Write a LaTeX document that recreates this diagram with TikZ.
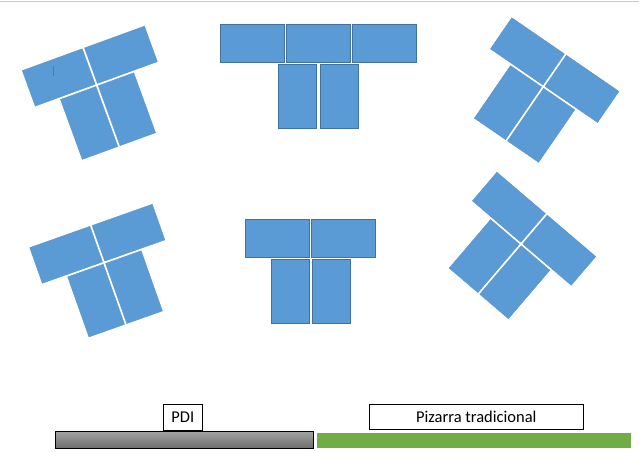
\documentclass[tikz,border=0pt]{standalone}
\usepackage{fontspec}
\setmainfont{Carlito}
\definecolor{tblue}{HTML}{5B9BD5}
\definecolor{tborder}{HTML}{41719C}
\definecolor{tedge}{HTML}{5590CB}
\definecolor{tgreen}{HTML}{70AD47}
\definecolor{gtop}{HTML}{A3A3A3}
\definecolor{gbot}{HTML}{6E6E6E}
\definecolor{topline}{HTML}{C8C8C8}
\definecolor{tick}{HTML}{C55A11}
\newcommand{\tgroup}[3]{%
  \begin{scope}[shift={(#1,#2)},rotate=#3]
    \path[rotdesk] (-65,-39) rectangle (-1.2,-1.2);
    \path[rotdesk] (1.2,-39) rectangle (65,-1.2);
    \path[rotdesk] (-39,1.2) rectangle (-1.2,65);
    \path[rotdesk] (1.2,1.2) rectangle (39,65);
  \end{scope}}
\begin{document}
\begin{tikzpicture}[x=1pt,y=-1pt,
  desk/.style={fill=tblue,draw=tborder,line width=1pt},
  rotdesk/.style={fill=tblue,draw=tedge,line width=0.3pt},
  label box/.style={draw=black,fill=white,line width=1pt,inner sep=0pt,
    font=\fontsize{16.5}{19}\selectfont}]
\useasboundingbox (0,0) rectangle (639,451);
\draw[topline,line width=1.5pt] (0,1.5) -- (639,1.5);
% top middle group
\path[desk] (220,24.3) rectangle (284.3,62.3);
\path[desk] (286.3,24.3) rectangle (350.3,62.3);
\path[desk] (352.3,24.3) rectangle (416.7,62.3);
\path[desk] (278.3,64.3) rectangle (316.7,128.3);
\path[desk] (320.3,64.3) rectangle (358.3,128.3);
% bottom middle group
\path[desk] (245,219.3) rectangle (309.7,257.3);
\path[desk] (311.3,219.3) rectangle (375.7,257.3);
\path[desk] (271,259.3) rectangle (309.7,323.3);
\path[desk] (312.3,259.3) rectangle (350.7,323.3);
% rotated groups
\tgroup{96.7}{85}{20}
\tgroup{104}{262.7}{19.5}
\tgroup{543.3}{86.7}{-34.5}
\tgroup{521}{244}{-40.5}
\draw[tick,line width=1pt] (53.3,66) -- (53.3,76);
% bars
\path[draw=black,line width=1pt,top color=gtop,bottom color=gbot] (55,431) rectangle (313.3,448.3);
\fill[tgreen] (316.7,432.7) rectangle (631,448.3);
\node[label box,minimum width=39pt,minimum height=26pt] (pdi) at (182.8,417.5) {PDI};
\node[label box,minimum width=214pt,minimum height=25pt] (piz) at (476.3,416.8) {Pizarra tradicional};
\end{tikzpicture}
\end{document}
